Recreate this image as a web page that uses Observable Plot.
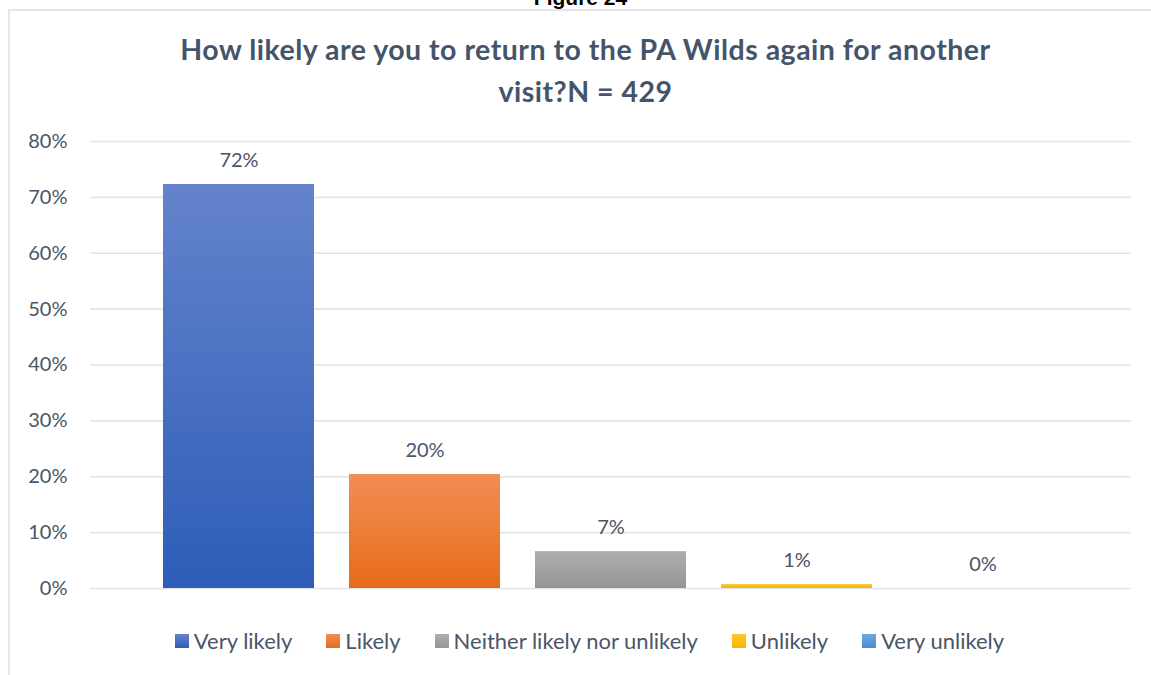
<!DOCTYPE html>
<html>
<head>
<meta charset="utf-8">
<script src="https://cdn.jsdelivr.net/npm/d3@7"></script>
<script src="https://cdn.jsdelivr.net/npm/@observablehq/plot@0.6"></script>
<style>
  html, body { margin: 0; padding: 0; background: #fff; width: 1151px; height: 675px; overflow: hidden; }
  #figlabel { position: absolute; left: 0; width: 1151px; top: -14px; text-align: center; font: bold 21px "Liberation Sans", Arial, sans-serif; color: #000; padding-left: 10px; box-sizing: border-box; }
  #frame { position: absolute; left: 8px; top: 9px; width: 1160px; height: 680px; border: 2px solid #E3E6EB; box-sizing: border-box; }
  #title { position: absolute; left: 0; width: 1151px; top: 28px; text-align: center; font: bold 28.5px Lato, sans-serif; letter-spacing: 0.5px; color: #44546A; line-height: 42px; padding-left: 20px; box-sizing: border-box; }
  #chart { position: absolute; left: 0; top: 120px; }
  #legend { position: absolute; left: 0; top: 627px; width: 1151px; display: flex; justify-content: center; gap: 34px; padding-left: 28px; box-sizing: border-box; font: 22px Lato, sans-serif; color: #4A5568; }
  .item { display: flex; align-items: center; gap: 5px; }
  .sw { width: 14px; height: 14px; display: inline-block; }
</style>
</head>
<body>
<div id="figlabel">Figure 24</div>
<div id="frame"></div>
<div id="title">How likely are you to return to the PA Wilds again for another<br>visit?N = 429</div>
<div id="chart"></div>
<div id="legend"></div>
<script>
const categories = ["Very likely", "Likely", "Neither likely nor unlikely", "Unlikely", "Very unlikely"];
const values = [0.723, 0.204, 0.066, 0.007, 0];
const valueLabels = ["72%", "20%", "7%", "1%", "0%"];
const yTicks = [0, 0.1, 0.2, 0.3, 0.4, 0.5, 0.6, 0.7, 0.8];
const topColors = ["#6483CB", "#F28E55", "#AEAEAE", "#FFC62E", "#6FA8DC"];
const bottomColors = ["#2D5DB8", "#E56B1A", "#959595", "#F5B800", "#4A8CD0"];

const data = categories.map((c, i) => ({category: c, value: values[i], label: valueLabels[i]}));

const defs = () => {
  const d = d3.create("svg:defs");
  categories.forEach((c, i) => {
    const g = d.append("linearGradient").attr("id", "g" + i)
      .attr("x1", 0).attr("y1", 0).attr("x2", 0).attr("y2", 1);
    g.append("stop").attr("offset", "0%").attr("stop-color", topColors[i]);
    g.append("stop").attr("offset", "100%").attr("stop-color", bottomColors[i]);
  });
  return d.node();
};

const chart = Plot.plot({
  width: 1151,
  height: 490,
  marginTop: 21,
  marginBottom: 22,
  marginLeft: 90,
  marginRight: 20,
  style: {fontFamily: "Lato, sans-serif", fontSize: "20px", color: "#4A5568", background: "transparent"},
  x: {domain: categories, paddingInner: 0.188, paddingOuter: 0.392, axis: null},
  y: {domain: [0, 0.8], ticks: yTicks, tickFormat: d => Math.round(d * 100) + "%", tickSize: 0, tickPadding: 23, label: null},
  color: {domain: categories, range: categories.map((c, i) => "url(#g" + i + ")")},
  marks: [
    defs,
    Plot.ruleY(yTicks, {stroke: "#E1E4E9", strokeWidth: 1.6}),
    Plot.barY(data, {x: "category", y: "value", fill: "category"}),
    Plot.text(data, {x: "category", y: "value", text: "label", dy: -24, fill: "#4A5568", fontSize: 20})
  ]
});
document.getElementById("chart").appendChild(chart);

const legend = document.getElementById("legend");
categories.forEach((c, i) => {
  const item = document.createElement("div");
  item.className = "item";
  const sw = document.createElement("span");
  sw.className = "sw";
  sw.style.background = `linear-gradient(${topColors[i]}, ${bottomColors[i]})`;
  const t = document.createElement("span");
  t.textContent = c;
  item.appendChild(sw);
  item.appendChild(t);
  legend.appendChild(item);
});
</script>
</body>
</html>
